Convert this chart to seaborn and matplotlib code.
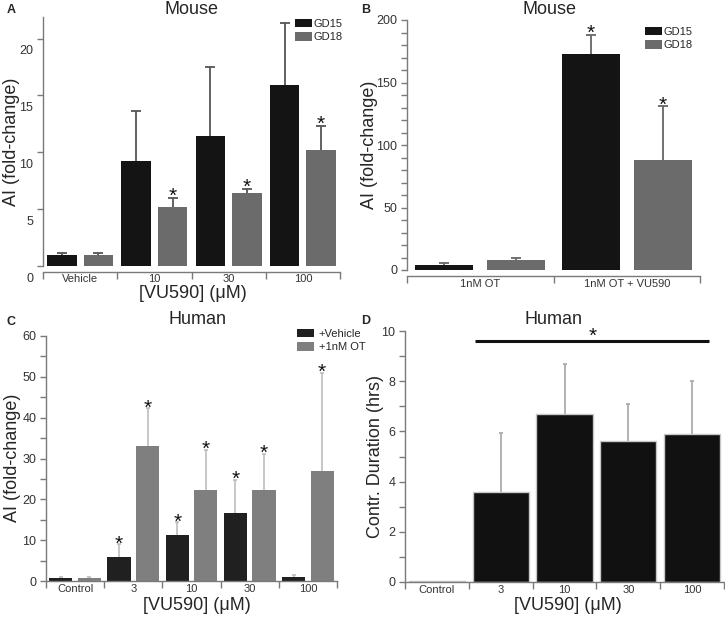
import numpy as np
import pandas as pd
import matplotlib
matplotlib.use("Agg")
import matplotlib.pyplot as plt
import matplotlib.patches as mpatches
import seaborn as sns
from matplotlib.ticker import MultipleLocator, FixedLocator, NullFormatter
from matplotlib.transforms import ScaledTranslation

# ---------------- data ----------------
# Panel A: Mouse
a_cats = ["Vehicle", "10", "30", "100"]
a_series = ["GD15", "GD18"]
a_gd15 = [1.0, 9.25, 11.4, 15.9]
a_gd15_sem = [0.1, 4.35, 6.1, 5.5]
a_gd18 = [1.0, 5.2, 6.4, 10.2]
a_gd18_sem = [0.1, 0.8, 0.4, 2.1]
a_gd15_sig = [False, False, False, False]
a_gd18_sig = [False, True, True, True]
a_yticks = [0, 5, 10, 15, 20]

# Panel B: Mouse
b_cats = ["1nM OT", "1nM OT + VU590"]
b_series = ["GD15", "GD18"]
b_gd15 = [4.0, 173.0]
b_gd15_sem = [1.3, 15.0]
b_gd18 = [8.0, 88.0]
b_gd18_sem = [2.0, 43.0]
b_gd15_sig = [False, True]
b_gd18_sig = [False, True]
b_yticks = [0, 50, 100, 150, 200]

# Panel C: Human
c_cats = ["Control", "3", "10", "30", "100"]
c_series = ["+Vehicle", "+1nM OT"]
c_vehicle = [0.8, 6.0, 11.3, 16.7, 0.9]
c_vehicle_sem = [0.1, 3.1, 3.2, 8.1, 0.6]
c_ot = [0.8, 33.1, 22.4, 22.4, 26.9]
c_ot_sem = [0.1, 9.3, 9.8, 8.8, 24.1]
c_vehicle_sig = [False, True, True, True, False]
c_ot_sig = [False, True, True, True, True]
c_yticks = [0, 10, 20, 30, 40, 50, 60]

# Panel D: Human
d_cats = ["Control", "3", "10", "30", "100"]
d_duration = [0.05, 3.6, 6.7, 5.6, 5.9]
d_duration_sem = [0.0, 2.35, 2.0, 1.5, 2.1]
d_yticks = [0, 2, 4, 6, 8, 10]
d_sig_from, d_sig_to, d_sig_level = "3", "100", 9.6

# ---------------- style ----------------
sns.set_style("ticks")
plt.rcParams["font.family"] = ["Liberation Sans", "DejaVu Sans"]
SPINE = "#7a7a7a"
TXT = "#333333"

W, H = 725, 618
fig = plt.figure(figsize=(W / 100, H / 100), dpi=100)


def rect(l, t, r, b):
    return [l / W, 1 - b / H, (r - l) / W, (b - t) / H]


def ftext(x, y, s, **kw):
    fig.text(x / W, 1 - y / H, s, ha="center", va="center", **kw)


def up_errorbars(ax, xs, v, e, color, lw, capsize):
    v = np.asarray(v, float)
    e = np.asarray(e, float)
    keep = e > 0
    xs = np.asarray(xs)[keep]
    ax.vlines(xs, v[keep], v[keep] + e[keep], colors=color, linewidth=lw, zorder=1)
    ax.plot(xs, v[keep] + e[keep], linestyle="none", marker="_", markersize=capsize,
            markeredgewidth=lw, color=color, zorder=1)


def style_axes(ax, cats, yticks, ytop, minor=None, offset=0, xpad=2.5):
    n = len(cats)
    sns.despine(ax=ax)
    for sp in ("left", "bottom"):
        ax.spines[sp].set_color(SPINE)
        ax.spines[sp].set_linewidth(1.0)
    if offset:
        ax.spines["bottom"].set_position(("outward", offset))
    ax.set_xlim(-0.5, n - 0.5)
    ax.xaxis.set_major_locator(FixedLocator(np.arange(n + 1) - 0.5))
    ax.xaxis.set_major_formatter(NullFormatter())
    ax.set_xticks(np.arange(n), cats, minor=True)
    ax.tick_params(axis="x", which="major", length=5, width=1, color=SPINE, direction="out")
    ax.tick_params(axis="x", which="minor", length=0, pad=xpad, labelsize=8, labelcolor=TXT)
    ax.set_ylim(0, ytop)
    ax.set_yticks(yticks)
    ax.tick_params(axis="y", which="major", length=4.5, width=1, color=SPINE,
                   direction="out", labelsize=9, labelcolor=TXT, pad=2.5)
    if minor:
        ax.yaxis.set_minor_locator(MultipleLocator(minor))
        ax.tick_params(axis="y", which="minor", length=4, width=1, color=SPINE, direction="out")
    ax.set_xlabel("")
    ax.set_ylabel("")


def grouped(ax, cats, series, vals, sems, sigs, colors, ecolor, elw, capsize, star_off):
    rows = []
    for s, v in zip(series, vals):
        for c, x in zip(cats, v):
            rows.append({"cat": c, "series": s, "val": x})
    df = pd.DataFrame(rows)
    sns.barplot(data=df, x="cat", y="val", hue="series", order=cats, hue_order=series,
                palette=dict(zip(series, colors)), width=0.98, gap=0.19, saturation=1,
                errorbar=None, legend=False, linewidth=0, ax=ax)
    for cont, v, e, sg in zip(ax.containers, vals, sems, sigs):
        for p in cont.patches:
            p.set_zorder(2)
        xs = [p.get_x() + p.get_width() / 2 for p in cont.patches]
        up_errorbars(ax, xs, v, e, ecolor, elw, capsize)
        for x, y, ee, s in zip(xs, v, e, sg):
            if s:
                ax.annotate("*", (x, y + ee), xytext=(0, star_off), textcoords="offset points",
                            ha="center", va="baseline", fontsize=15, color="#111111")


def legend(ax, series, colors, x, y, tpad):
    handles = [mpatches.Patch(facecolor=c, edgecolor="none") for c in colors]
    ax.legend(handles, series, loc="upper left", bbox_to_anchor=(x / W, 1 - y / H),
              bbox_transform=fig.transFigure, frameon=False, fontsize=8,
              handlelength=1.55, handleheight=0.75, handletextpad=tpad,
              labelspacing=0.3, borderpad=0, borderaxespad=0)


# ---------------- Panel A ----------------
axA = fig.add_axes(rect(43, 17, 340, 266))
grouped(axA, a_cats, a_series, [a_gd15, a_gd18], [a_gd15_sem, a_gd18_sem],
        [a_gd15_sig, a_gd18_sig], ["#141414", "#6b6b6b"], "#555555", 1.3, 6.5, -3)
style_axes(axA, a_cats, a_yticks, 21.9, offset=4, xpad=1.5)
legend(axA, a_series, ["#141414", "#6b6b6b"], 295, 19, 0.1)
for lab in axA.get_yticklabels():
    lab.set_transform(lab.get_transform() + ScaledTranslation(0, -8 / 72, fig.dpi_scale_trans))
ftext(11, 10, "A", fontsize=9, fontweight="bold")
ftext(192, 10, "Mouse", fontsize=13)
ftext(12, 142, "AI (fold-change)", fontsize=13, rotation=90)
ftext(193, 293, "[VU590] (μM)", fontsize=13)

# ---------------- Panel B ----------------
axB = fig.add_axes(rect(407, 20, 700, 270))
grouped(axB, b_cats, b_series, [b_gd15, b_gd18], [b_gd15_sem, b_gd18_sem],
        [b_gd15_sig, b_gd18_sig], ["#141414", "#6b6b6b"], "#666666", 1.3, 6.5, -3)
style_axes(axB, b_cats, b_yticks, 200, minor=10, offset=4)
legend(axB, b_series, ["#141414", "#6b6b6b"], 645, 27, 0.1)
ftext(366, 10, "B", fontsize=9, fontweight="bold")
ftext(550, 10, "Mouse", fontsize=13)
ftext(369, 145, "AI (fold-change)", fontsize=13, rotation=90)

# ---------------- Panel C ----------------
axC = fig.add_axes(rect(46, 336, 337, 581))
grouped(axC, c_cats, c_series, [c_vehicle, c_ot], [c_vehicle_sem, c_ot_sem],
        [c_vehicle_sig, c_ot_sig], ["#202020", "#7f7f7f"], "#bdbdbd", 1.2, 3.5, -4)
style_axes(axC, c_cats, c_yticks, 60, minor=5)
legend(axC, c_series, ["#202020", "#7f7f7f"], 297, 329, 0.4)
ftext(11, 322, "C", fontsize=9, fontweight="bold")
ftext(197, 320, "Human", fontsize=13)
ftext(13, 458, "AI (fold-change)", fontsize=13, rotation=90)
ftext(197, 605, "[VU590] (μM)", fontsize=13)

# ---------------- Panel D ----------------
axD = fig.add_axes(rect(405, 331, 724, 582))
sns.barplot(x=d_cats, y=d_duration, order=d_cats, color="#111111", width=0.88,
            saturation=1, errorbar=None, edgecolor="#c8c8c8", linewidth=1, ax=axD)
for p in axD.containers[0].patches:
    p.set_zorder(2)
xsD = [p.get_x() + p.get_width() / 2 for p in axD.containers[0].patches]
up_errorbars(axD, xsD, d_duration, d_duration_sem, "#adadad", 1.3, 3)
i0, i1 = d_cats.index(d_sig_from), d_cats.index(d_sig_to)
axD.plot([i0 - 0.4, i1 + 0.27], [d_sig_level, d_sig_level], color="#111111", lw=2.2,
         solid_capstyle="butt")
axD.annotate("*", ((i0 - 0.4 + i1 + 0.27) / 2, d_sig_level), xytext=(0, -0.5),
             textcoords="offset points", ha="center", va="baseline", fontsize=15, color="#111111")
style_axes(axD, d_cats, d_yticks, 10, minor=1, xpad=2)
ftext(366, 321, "D", fontsize=9, fontweight="bold")
ftext(554, 319, "Human", fontsize=13)
ftext(375, 456, "Contr. Duration (hrs)", fontsize=13, rotation=90)
ftext(568, 605, "[VU590] (μM)", fontsize=13)

fig.savefig("out.png", dpi=100)
